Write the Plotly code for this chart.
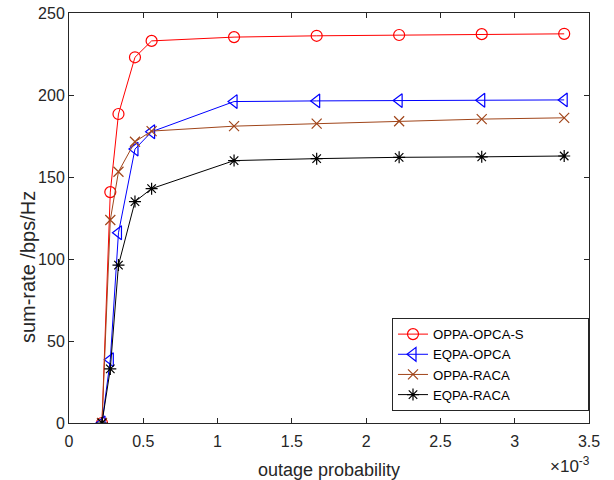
import plotly.graph_objects as go

outage_prob = [0.000222, 0.000278, 0.000333, 0.000444, 0.000556,
               0.001111, 0.001667, 0.002222, 0.002778, 0.003333]

oppa_opca_s = [0.0, 140.8, 188.4, 223.0, 233.0, 235.3, 236.1, 236.6, 237.1, 237.3]
eqpa_opca = [0.0, 38.6, 116.0, 167.0, 177.6, 196.0, 196.4, 196.6, 196.8, 197.0]
oppa_raca = [0.0, 123.8, 153.2, 171.5, 178.0, 181.0, 182.5, 184.0, 185.3, 186.1]
eqpa_raca = [0.0, 33.0, 96.3, 135.0, 142.9, 160.0, 161.2, 162.0, 162.3, 162.8]

series_names = ["OPPA-OPCA-S", "EQPA-OPCA", "OPPA-RACA", "EQPA-RACA"]

x_tick_vals = [0, 0.0005, 0.001, 0.0015, 0.002, 0.0025, 0.003, 0.0035]
x_tick_text = ["0", "0.5", "1", "1.5", "2", "2.5", "3", "3.5"]
y_tick_vals = [0, 50, 100, 150, 200, 250]

AX = "#262626"
FONT = "Liberation Sans, Arial, sans-serif"
PAD = "\u00a0" * 16

styles = [
    dict(color="#FF0000", symbol="circle-open", size=11),
    dict(color="#0000FF", symbol="triangle-left-open", size=12),
    dict(color="#A0451A", symbol="x-thin-open", size=10),
    dict(color="#000000", symbol="asterisk-open", size=10),
]
data = [oppa_opca_s, eqpa_opca, oppa_raca, eqpa_raca]

fig = go.Figure()
for name, ys, st in zip(series_names, data, styles):
    fig.add_trace(go.Scatter(
        x=outage_prob, y=ys, name=name + PAD, mode="lines+markers",
        line=dict(color=st["color"], width=1),
        marker=dict(symbol=st["symbol"], size=st["size"], color=st["color"],
                    line=dict(color=st["color"], width=1.2)),
    ))

fig.update_layout(
    width=614, height=480,
    margin=dict(l=69, r=25, t=13, b=57, autoexpand=False),
    paper_bgcolor="white", plot_bgcolor="white",
    font=dict(family=FONT, size=16, color=AX),
    showlegend=True,
    legend=dict(
        x=1.0, xanchor="right", y=0.256, yanchor="top",
        bgcolor="white", bordercolor=AX, borderwidth=1,
        font=dict(family=FONT, size=13.2, color="#000000"),
        tracegroupgap=0,
    ),
    xaxis=dict(
        range=[0, 0.0035], tickvals=x_tick_vals, ticktext=x_tick_text,
        showgrid=False, zeroline=False, automargin=False,
        showline=True, linecolor=AX, linewidth=1, mirror="ticks",
        ticks="inside", ticklen=5, tickcolor=AX, ticklabelstandoff=4,
        tickfont=dict(size=16, color=AX),
        title=dict(text="outage probability", font=dict(size=18, color=AX), standoff=15),
    ),
    yaxis=dict(
        range=[0, 250], tickvals=y_tick_vals,
        showgrid=False, zeroline=False, automargin=False,
        showline=True, linecolor=AX, linewidth=1, mirror="ticks",
        ticks="inside", ticklen=5, tickcolor=AX,
        tickfont=dict(size=16, color=AX),
    ),
    annotations=[
        dict(
            text="×10<sup>-3</sup>", xref="paper", yref="paper",
            x=1.005, y=-0.07, xanchor="right", yanchor="top", showarrow=False,
            font=dict(family=FONT, size=17, color=AX),
        ),
        dict(
            text="sum-rate /bps/Hz", xref="paper", yref="paper",
            x=-0.079, y=0.38, xanchor="center", yanchor="middle",
            textangle=-90, showarrow=False,
            font=dict(family=FONT, size=20, color=AX),
        ),
    ],
)

fig.write_html("out.html", config={"displayModeBar": False},
               post_script="document.body.style.margin='0';")
